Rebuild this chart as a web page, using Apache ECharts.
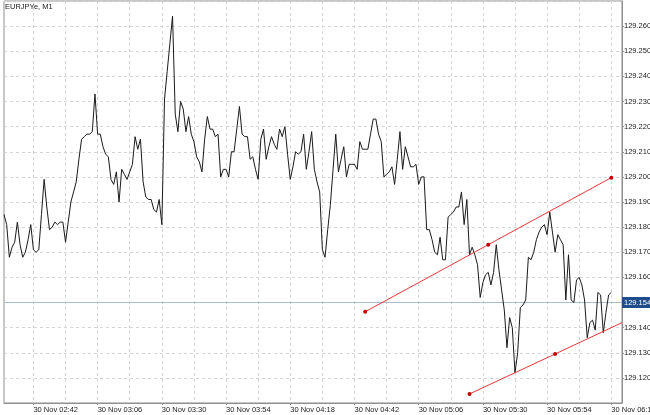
<!DOCTYPE html>
<html><head><meta charset="utf-8">
<script src="https://cdn.jsdelivr.net/npm/echarts@6/dist/echarts.min.js"></script>
<style>html,body{margin:0;padding:0;background:#fff}#c{width:650px;height:415px}</style>
</head><body><div id="c"></div>
<script>
const chartTitle = 'EURJPYe, M1';
const dayLabel = '30 Nov';
const firstMinute = 151; // 02:31, left edge of the plot
const lastMinute = 382;  // 06:22, right edge of the plot
const prices = [
129.185,129.181,129.168,129.172,129.174,129.182,129.173,129.168,129.170,129.175,
129.181,129.171,129.170,129.171,129.185,129.199,129.188,129.179,129.180,129.182,
129.181,129.182,129.182,129.174,129.182,129.190,129.194,129.198,129.207,129.215,
129.216,129.217,129.217,129.218,129.233,129.217,129.217,129.212,129.209,129.208,
129.199,129.197,129.202,129.190,129.203,129.201,129.199,129.202,129.205,129.216,
129.211,129.215,129.198,129.192,129.191,129.191,129.187,129.186,129.191,129.181,
129.231,129.242,129.253,129.264,129.225,129.218,129.230,129.227,129.218,129.224,
129.217,129.214,129.208,129.206,129.202,129.215,129.224,129.219,129.219,129.216,
129.217,129.200,129.203,129.203,129.200,129.210,129.210,129.219,129.228,129.217,
129.216,129.216,129.207,129.208,129.203,129.199,129.215,129.219,129.207,129.212,
129.216,129.213,129.211,129.219,129.216,129.220,129.209,129.199,129.204,129.210,
129.209,129.210,129.217,129.203,129.210,129.218,129.203,129.198,129.194,129.171,
129.168,129.179,129.189,129.203,129.217,129.202,129.207,129.212,129.200,129.205,
129.205,129.205,129.203,129.214,129.211,129.211,129.211,129.217,129.223,129.223,
129.217,129.214,129.200,129.201,129.202,129.204,129.197,129.207,129.218,129.203,
129.212,129.208,129.204,129.204,129.205,129.197,129.200,129.200,129.179,129.179,
129.175,129.170,129.169,129.176,129.167,129.167,129.184,129.185,129.186,129.188,
129.188,129.194,129.181,129.191,129.169,129.172,129.169,129.165,129.152,129.158,
129.161,129.162,129.157,129.162,129.173,129.163,129.155,129.147,129.132,129.144,
129.140,129.122,129.130,129.148,129.149,129.151,129.168,129.167,129.170,129.175,
129.178,129.180,129.181,129.177,129.186,129.178,129.170,129.177,129.175,129.173,
129.151,129.169,129.151,129.150,129.159,129.160,129.157,129.151,129.136,129.142,
129.143,129.139,129.154,129.153,129.138,129.146,129.153,129.154
];
const currentPrice = 129.154;
// trend line anchors
const upperTrendTimes = ['04:46','05:32','06:18'];
const upperTrendPrices = [129.1463,129.1730,129.1997];
const upperTrendDots = [true,true,true];
const lowerTrendTimes = ['05:25','05:57','06:22'];
const lowerTrendPrices = [129.1136,129.1295,129.1420];
const lowerTrendDots = [true,true,false];
const yMin = 129.110, yMax = 129.270, yStep = 0.010;
const gridMinutes = 12, labelMinutes = 24, labelOffset = 18, gridOffset = 6;

function hhmm(m){const h=Math.floor(m/60),mm=m%60;return (h<10?'0':'')+h+':'+(mm<10?'0':'')+mm;}
const minutes = [];
const categories = [];
for (let m = firstMinute; m <= lastMinute; m++){minutes.push(m);categories.push(dayLabel+' '+hhmm(m));}
function trendData(times, vals, dots){
  return times.map((t,i)=>({value:[dayLabel+' '+t, vals[i]], symbol: dots[i]?'circle':'none'}));
}
const FONT = 'Liberation Sans';
const chart = echarts.init(document.getElementById('c'), null, {renderer:'canvas'});
chart.setOption({
  animation:false,
  backgroundColor:'#ffffff',
  title:{text:chartTitle,left:5,top:3,padding:0,textStyle:{fontFamily:FONT,fontSize:7.5,fontWeight:'normal',color:'#222'}},
  grid:{left:4,top:1,width:618,height:402,show:true,borderColor:'#8f8f8f',borderWidth:1,backgroundColor:'#fff',outerBoundsMode:'none',containLabel:false},
  xAxis:{
    type:'category',boundaryGap:false,data:categories,
    axisLine:{show:true,lineStyle:{color:'#8f8f8f'}},
    axisTick:{show:true,length:2,interval:(i)=>minutes[i]%labelMinutes===labelOffset,lineStyle:{color:'#8f8f8f'}},
    axisLabel:{interval:(i)=>minutes[i]%labelMinutes===labelOffset,align:'left',margin:3,fontFamily:FONT,fontSize:7.5,color:'#222',hideOverlap:false},
    splitLine:{show:true,interval:(i)=>minutes[i]%gridMinutes===gridOffset,lineStyle:{color:'#d6d6d6',type:[3,3],width:1}}
  },
  yAxis:{
    type:'value',position:'right',min:yMin,max:yMax,interval:yStep,scale:true,
    axisLine:{show:true,lineStyle:{color:'#8f8f8f'}},
    axisTick:{show:true,length:2,lineStyle:{color:'#8f8f8f'}},
    axisLabel:{showMinLabel:false,showMaxLabel:false,margin:2,fontFamily:FONT,fontSize:7.5,color:'#222',formatter:(v)=>v.toFixed(3)},
    splitLine:{show:true,lineStyle:{color:'#d6d6d6',type:[3,3],width:1}}
  },
  series:[
    {type:'line',data:prices,symbol:'none',lineStyle:{color:'#1a1a1a',width:1},z:5,
     markLine:{silent:true,symbol:'none',animation:false,
       lineStyle:{color:'#a9bbd2',width:1,type:'solid'},
       label:{show:true,position:'end',distance:0,formatter:()=>currentPrice.toFixed(3),
         backgroundColor:'#1f4d8c',color:'#fff',padding:[2,1,1,2],fontFamily:FONT,fontSize:7.5},
       data:[{yAxis:currentPrice}]}},
    {type:'line',data:trendData(upperTrendTimes,upperTrendPrices,upperTrendDots),symbolSize:4,
     showSymbol:true,showAllSymbol:true,
     itemStyle:{color:'#c40000'},lineStyle:{color:'#e8393b',width:1},z:6},
    {type:'line',data:trendData(lowerTrendTimes,lowerTrendPrices,lowerTrendDots),symbolSize:4,
     showSymbol:true,showAllSymbol:true,
     itemStyle:{color:'#c40000'},lineStyle:{color:'#e8393b',width:1},z:6}
  ]
});
</script></body></html>
